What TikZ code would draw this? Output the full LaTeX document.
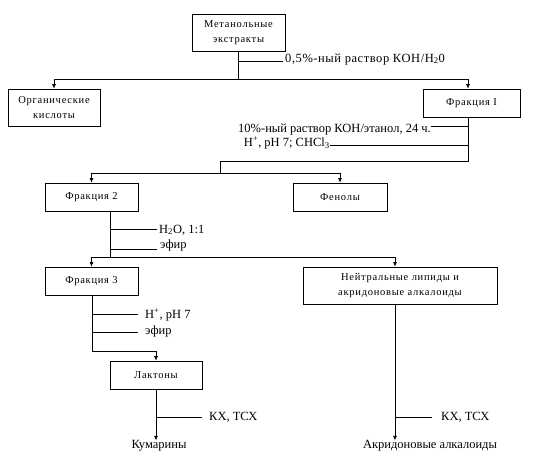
\documentclass[tikz,border=0pt]{standalone}
\usepackage{fontspec}
\setmainfont{Liberation Serif}
\newfontfamily\boxfont[LetterSpace=7]{Liberation Serif}
\newfontfamily\widefont[LetterSpace=4.5]{Liberation Serif}
\usetikzlibrary{arrows.meta}
\begin{document}
\begin{tikzpicture}[x=1pt,y=-1pt,
  box/.style={draw, line width=0.7pt, inner sep=0pt, align=center, font=\boxfont\fontsize{10.5}{15.5}\selectfont},
  lab/.style={inner sep=0pt, font=\fontsize{12.5}{13}\selectfont},
  ln/.style={line width=0.7pt},
  arr/.style={line width=0.7pt, -{Latex[length=4.5pt,width=4pt]}}]
\useasboundingbox (0,0) rectangle (534,459);
% boxes
\node[box, minimum width=93pt, minimum height=37pt] (met) at (238.5,32.5) {Метанольные\\экстракты};
\node[box, minimum width=92pt, minimum height=37pt] (org) at (54,107.5) {Органические\\кислоты};
\node[box, minimum width=97pt, minimum height=28pt] (f1) at (471.5,103) {Фракция I};
\node[box, minimum width=93pt, minimum height=28pt] (f2) at (91.5,197) {Фракция 2};
\node[box, minimum width=94pt, minimum height=28pt] (phen) at (340,197) {Фенолы};
\node[box, minimum width=93pt, minimum height=28pt] (f3) at (91.5,281) {Фракция 3};
\node[box, minimum width=194pt, minimum height=37pt] (neu) at (400,285.5) {Нейтральные липиды и\\акридоновые алкалоиды};
\node[box, minimum width=92pt, minimum height=28pt] (lac) at (156,375) {Лактоны};
\node[lab] (kum) at (159,446) {Кумарины};
\node[lab] (akr) at (430,446) {Акридоновые алкалоиды};
% labels
\node[lab, anchor=base west, font=\widefont\fontsize{12.5}{13}\selectfont] (l1) at (285,62) {0,5\%-ный раствор КОН/H\textsubscript{2}0};
\node[lab, anchor=east] (l2) at (431,130) {10\%-ный раствор КОН/этанол, 24 ч.};
\node[lab, anchor=east] (l3) at (330,143) {H\textsuperscript{+}, pH 7; CHCl\textsubscript{3}};
\node[lab, anchor=west] (l4) at (159,230) {H\textsubscript{2}O, 1:1};
\node[lab, anchor=west] (l5) at (160,245) {эфир};
\node[lab, anchor=west] (l6) at (145,315) {H\textsuperscript{+}, pH 7};
\node[lab, anchor=west] (l7) at (145,331) {эфир};
\node[lab, anchor=west] (l8) at (209,417.5) {КХ, ТСХ};
\node[lab, anchor=west] (l9) at (441,417.5) {КХ, ТСХ};
% junction coordinates
\coordinate (j1) at (238.5,79);
\coordinate (s1) at (238.5,61);
\coordinate (fa) at (468,117);
\coordinate (s2) at (468,126);
\coordinate (s3) at (468,145);
\coordinate (j2) at (468,161);
\coordinate (j2b) at (220,161);
\coordinate (j3) at (220,173);
\coordinate (fb) at (110,211);
\coordinate (s4) at (110,229);
\coordinate (s5) at (110,249);
\coordinate (j4) at (110,257);
\coordinate (fc) at (92,295);
\coordinate (s6) at (92,314);
\coordinate (s7) at (92,332);
\coordinate (j5) at (92,351);
\coordinate (s8) at (156,417);
\coordinate (s9) at (395,417);
% connectors
\draw[ln] (met.south) -- (j1);
\draw[ln, shorten >=2pt] (s1) -- (s1 -| l1.west);
\draw[arr] (j1) -| (org.north);
\draw[arr] (j1) -| ([xshift=-3.5pt]f1.north);
\draw[ln] (fa) -- (j2) -- (j2b) -- (j3);
\draw[ln] (s2) -- (s2 -| l2.east);
\draw[ln] (s3) -- (s3 -| l3.east);
\draw[arr] (j3) -| (f2.north);
\draw[arr] (j3) -| (phen.north);
\draw[ln] (fb) -- (j4);
\draw[ln, shorten >=2pt] (s4) -- (s4 -| l4.west);
\draw[ln, shorten >=3pt] (s5) -- (s5 -| l5.west);
\draw[arr] (j4) -| (f3.north);
\draw[arr] (j4) -| ([xshift=-5pt]neu.north);
\draw[ln] (fc) -- (j5);
\draw[ln, shorten >=7pt] (s6) -- (s6 -| l6.west);
\draw[ln, shorten >=7pt] (s7) -- (s7 -| l7.west);
\draw[arr] (j5) -| (lac.north);
\draw[arr] (lac.south) -- (kum.north -| lac.south);
\draw[ln, shorten >=7pt] (s8) -- (s8 -| l8.west);
\draw[arr] ([xshift=-5pt]neu.south) -- (akr.north -| s9);
\draw[ln, shorten >=9pt] (s9) -- (s9 -| l9.west);
\end{tikzpicture}
\end{document}
